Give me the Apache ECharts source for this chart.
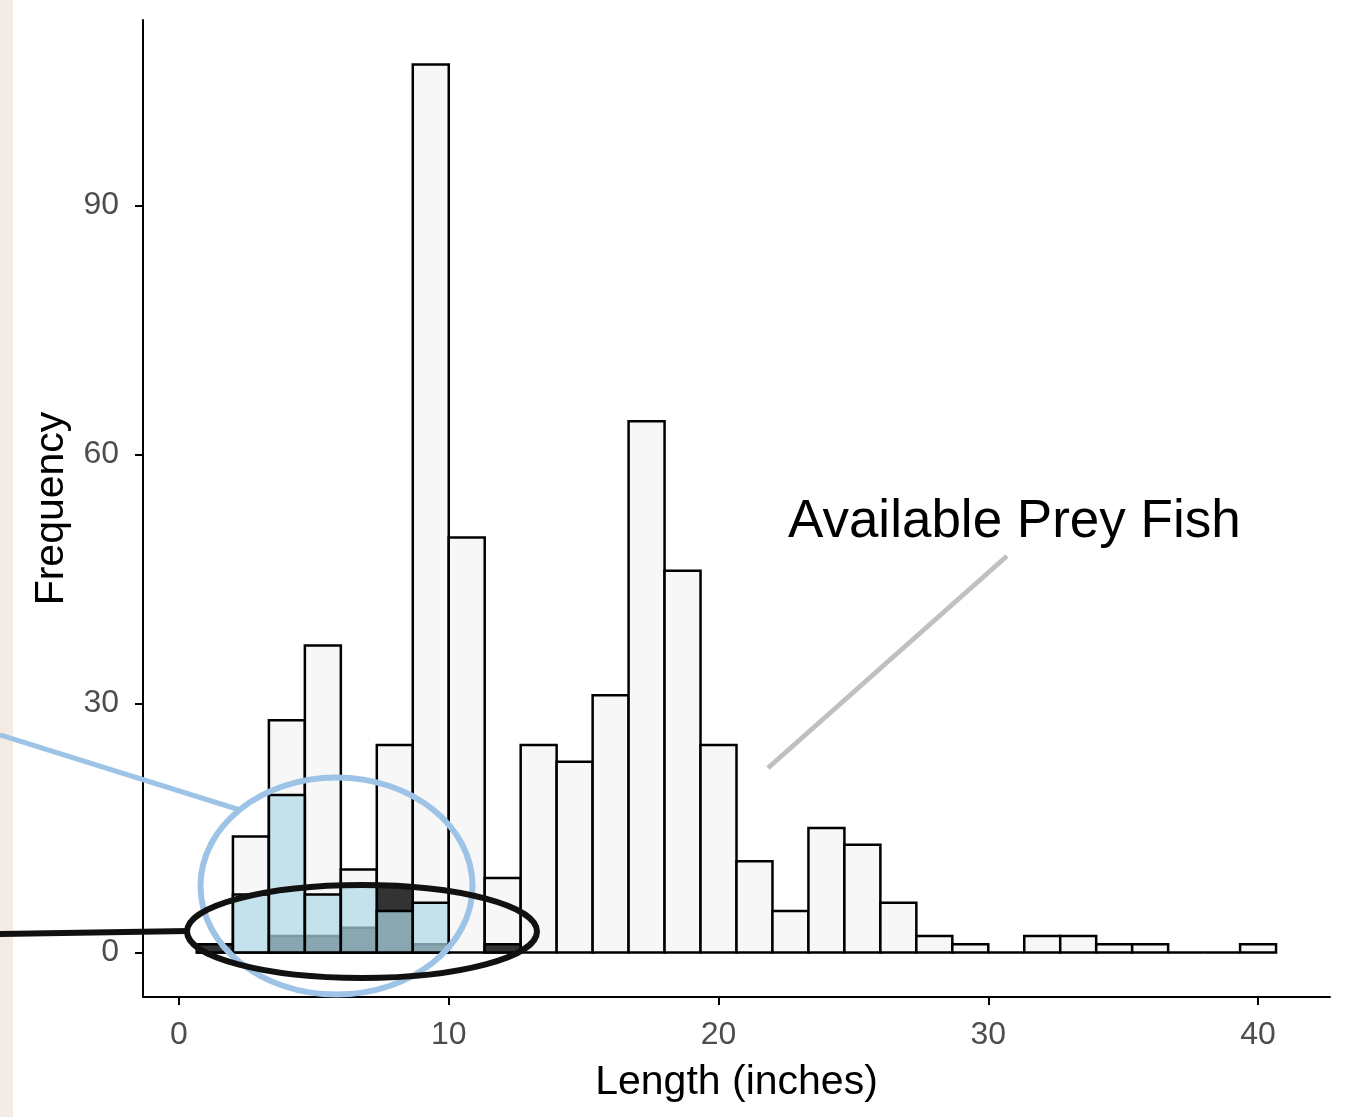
<!DOCTYPE html>
<html>
<head>
<meta charset="utf-8">
<script src="https://cdn.jsdelivr.net/npm/echarts@6/dist/echarts.min.js"></script>
<style>
html,body{margin:0;padding:0;background:#fff;}
#chart{width:1345px;height:1117px;}
</style>
</head>
<body>
<div id="chart"></div>
<script>
// Histogram bins (length in inches): 30 bins of width 4/3 starting at 2/3
const binFirstEdge = 2 / 3;
const binWidth = 4 / 3;
// Counts per bin
const preyFishCounts   = [1, 14, 28, 37, 10, 25, 107, 50, 9, 25, 23, 31, 64, 46, 25, 11, 5, 15, 13, 6, 2, 1, 0, 2, 2, 1, 1, 0, 0, 1];
const blueGroupCounts  = [0, 7, 19, 7, 8, 5, 6, 0, 0];
const darkGroupCounts  = [1, 0, 2, 2, 3, 8, 1, 0, 1];
// Tick labels
const xTicks = [0, 10, 20, 30, 40];
const yTicks = [0, 30, 60, 90];

function binData(counts, keepZero) {
  const out = [];
  counts.forEach(function (c, i) {
    if (!keepZero && c === 0) return;
    const lo = binFirstEdge + i * binWidth;
    out.push([lo, lo + binWidth, c]);
  });
  return out;
}

function histSeries(name, counts, fill, keepZero) {
  return {
    type: 'custom',
    name: name,
    data: binData(counts, keepZero),
    encode: { x: [0, 1], y: 2 },
    renderItem: function (params, api) {
      const p0 = api.coord([api.value(0), 0]);
      const p1 = api.coord([api.value(1), api.value(2)]);
      return {
        type: 'rect',
        shape: { x: p0[0], y: p1[1], width: p1[0] - p0[0], height: p0[1] - p1[1] },
        style: { fill: fill, stroke: '#000', lineWidth: 2.5 }
      };
    }
  };
}

const FONT = '"Liberation Sans", Arial, sans-serif';
const chart = echarts.init(document.getElementById('chart'));
chart.setOption({
  backgroundColor: '#ffffff',
  animation: false,
  grid: { left: 143, right: 15, top: 20, bottom: 120 },
  xAxis: {
    type: 'value', min: -4 / 3, max: 128 / 3,
    name: 'Length (inches)', nameLocation: 'middle', nameGap: 65,
    nameTextStyle: { fontFamily: FONT, fontSize: 41, color: '#000' },
    axisLine: { show: true, onZero: false, lineStyle: { color: '#000', width: 2 } },
    axisTick: { show: true, length: 8, customValues: xTicks, lineStyle: { color: '#000', width: 2 } },
    axisLabel: { customValues: xTicks, fontFamily: FONT, fontSize: 32, color: '#4d4d4d', margin: 22 },
    splitLine: { show: false }
  },
  yAxis: {
    type: 'value', min: -5.35, max: 112.35,
    name: 'Frequency', nameLocation: 'middle', nameGap: 66, nameRotate: 90,
    nameTextStyle: { fontFamily: FONT, fontSize: 41, color: '#000' },
    axisLine: { show: true, onZero: false, lineStyle: { color: '#000', width: 2 } },
    axisTick: { show: true, length: 8, customValues: yTicks, lineStyle: { color: '#000', width: 2 } },
    axisLabel: { customValues: yTicks, fontFamily: FONT, fontSize: 32, color: '#4d4d4d', margin: 24 },
    splitLine: { show: false }
  },
  series: [
    histSeries('Available Prey Fish', preyFishCounts, '#f7f7f7', true),
    histSeries('Dark group', darkGroupCounts, '#333333', false),
    histSeries('Blue group', blueGroupCounts, 'rgba(173,216,230,0.7)', false)
  ],
  graphic: [
    { type: 'rect', z: 0, shape: { x: 0, y: 0, width: 13, height: 1117 }, style: { fill: '#f3ece4' } },
    { type: 'line', z: 100, shape: { x1: 768, y1: 768, x2: 1007, y2: 556 }, style: { stroke: '#c0c0c0', lineWidth: 5 } },
    { type: 'text', z: 100, x: 788, y: 522, style: { text: 'Available Prey Fish', fontFamily: FONT, fontSize: 53, fill: '#000', verticalAlign: 'middle', align: 'left' } },
    { type: 'line', z: 100, shape: { x1: 0, y1: 735, x2: 240, y2: 810 }, style: { stroke: '#9dc3e6', lineWidth: 5 } },
    { type: 'ellipse', z: 100, shape: { cx: 336.5, cy: 886, rx: 136, ry: 108.5 }, style: { fill: null, stroke: '#9dc3e6', lineWidth: 6 } },
    { type: 'line', z: 101, shape: { x1: 0, y1: 934, x2: 188, y2: 931 }, style: { stroke: '#111', lineWidth: 6 } },
    { type: 'ellipse', z: 101, shape: { cx: 362, cy: 931.5, rx: 175, ry: 46.5 }, style: { fill: null, stroke: '#111', lineWidth: 6 } }
  ]
});
</script>
</body>
</html>
